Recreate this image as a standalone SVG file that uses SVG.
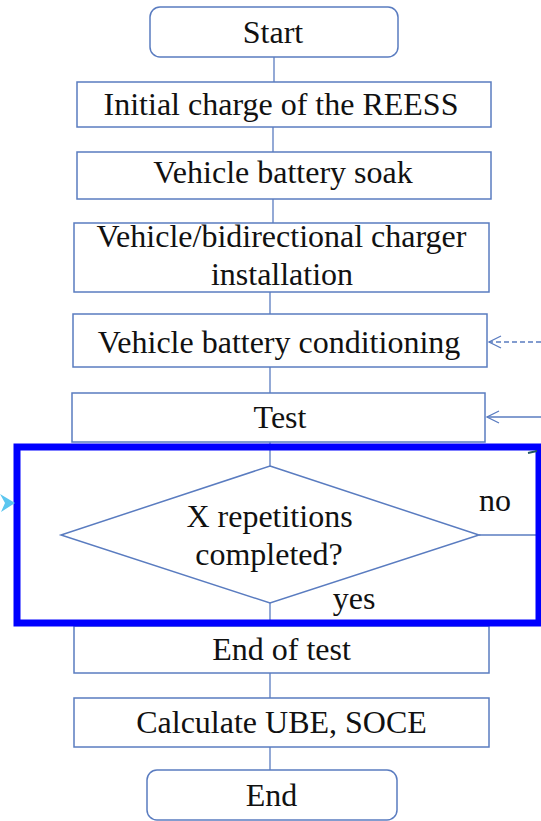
<svg xmlns="http://www.w3.org/2000/svg" width="541" height="821" viewBox="0 0 541 821">
<style>
.box{fill:#fff;stroke:#5a7cc0;stroke-width:1.5}
.t{font-family:"Liberation Serif","Times New Roman",Tinos,"DejaVu Serif",serif;font-size:32px;fill:#111;text-anchor:middle}
.c{stroke:#5a7cc0;stroke-width:1.3;fill:none}
</style>
<defs>
<marker id="open" viewBox="0 0 14 14" markerWidth="14" markerHeight="14" refX="13" refY="7" orient="auto" markerUnits="userSpaceOnUse" overflow="visible">
<path d="M1,1 L13,7 L1,13" fill="none" stroke="#5a7cc0" stroke-width="1.3"/>
</marker>
</defs>
<rect width="541" height="821" fill="#fff"/>
<g id="connectors">
<line class="c" x1="274" y1="57" x2="274" y2="82"/>
<line class="c" x1="273" y1="127" x2="273" y2="152"/>
<line class="c" x1="273" y1="199" x2="273" y2="223"/>
<line class="c" x1="270" y1="292" x2="270" y2="314"/>
<line class="c" x1="270" y1="367" x2="270" y2="393"/>
<line class="c" x1="270" y1="442" x2="270" y2="466"/>
<line class="c" x1="270" y1="603" x2="270" y2="626"/>
<line class="c" x1="270" y1="673" x2="270" y2="698"/>
<line class="c" x1="270" y1="747" x2="270" y2="770"/>
<line class="c" x1="479" y1="535" x2="541" y2="535"/>
<line class="c" x1="541" y1="417" x2="487" y2="417" marker-end="url(#open)"/>
<line class="c" x1="541" y1="342" x2="489" y2="342" stroke-dasharray="5,3" marker-end="url(#open)"/>
</g>
<g id="start"><rect class="box" x="150" y="7" width="248" height="50" rx="10"/><text class="t" x="273" y="43">Start</text></g>
<g id="initial"><rect class="box" x="77" y="82" width="414" height="45"/><text class="t" x="281" y="115">Initial charge of the REESS</text></g>
<g id="soak"><rect class="box" x="77" y="152" width="414" height="47"/><text class="t" x="283" y="183">Vehicle battery soak</text></g>
<g id="install"><rect class="box" x="74" y="223" width="415" height="69"/><text class="t" x="281.5" y="247">Vehicle/bidirectional charger</text><text class="t" x="282" y="285">installation</text></g>
<g id="conditioning"><rect class="box" x="73" y="314" width="414" height="53"/><text class="t" x="279" y="353">Vehicle battery conditioning</text></g>
<g id="test"><rect class="box" x="72" y="393" width="413" height="49"/><text class="t" x="280" y="428">Test</text></g>
<g id="endtest"><rect class="box" x="74" y="626" width="415" height="47"/><text class="t" x="281.5" y="660">End of test</text></g>
<g id="calc"><rect class="box" x="74" y="698" width="415" height="49"/><text class="t" x="281.5" y="733">Calculate UBE, SOCE</text></g>
<g id="end"><rect class="box" x="147" y="770" width="250" height="50" rx="10"/><text class="t" x="271.5" y="806">End</text></g>
<g id="highlight">
<rect x="17" y="447" width="522" height="176" fill="none" stroke="#0000ff" stroke-width="7"/>
<polygon points="15,503 0,494 5,503 1,512" fill="#5bc6ef"/>
<path d="M528,453 L537,451" stroke="#1f5566" stroke-width="2" fill="none"/>
</g>
<g id="decision"><polygon class="box" fill="none" points="270,466 479,535 270,603 61,535"/><text class="t" x="269.5" y="527">X repetitions</text><text class="t" x="269" y="565">completed?</text></g>
<text class="t" x="495" y="511">no</text>
<text class="t" x="354" y="609">yes</text>
</svg>
